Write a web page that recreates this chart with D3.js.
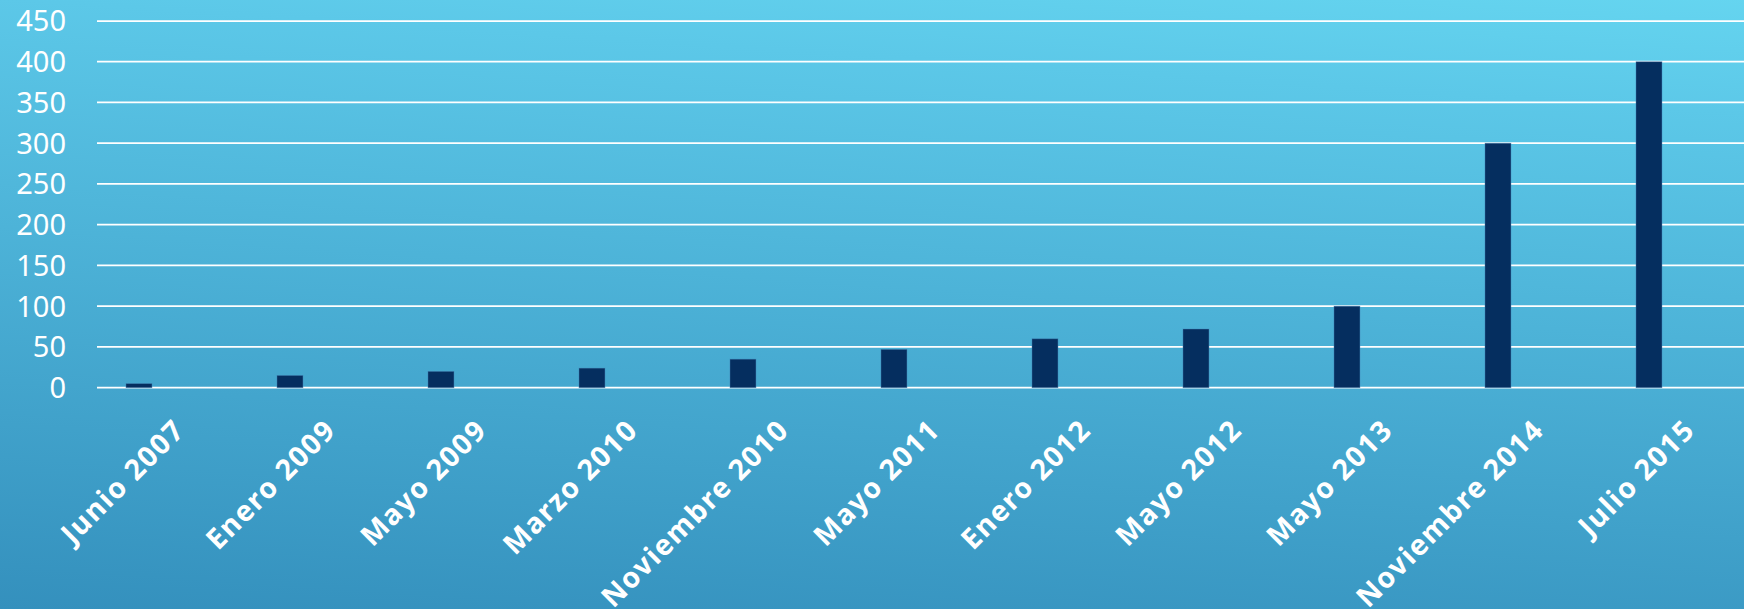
<!DOCTYPE html>
<html>
<head>
  <style>
    body { margin: 0; padding: 0; overflow: hidden; }
    svg { display: block; }
    .ylab { font-family: "Noto Sans", sans-serif; font-size: 29px; fill: #fff; }
    .xlab { font-family: "Noto Sans", sans-serif; font-weight: 700; font-size: 28.5px; letter-spacing: 1.5px; fill: #fff; }
  </style>
</head>
<body>
  <div id="chart"></div>
  <script src="https://cdnjs.cloudflare.com/ajax/libs/d3/7.8.5/d3.min.js"></script>
  <script>
    const categories = ['Junio 2007', 'Enero 2009', 'Mayo 2009', 'Marzo 2010', 'Noviembre 2010',
      'Mayo 2011', 'Enero 2012', 'Mayo 2012', 'Mayo 2013', 'Noviembre 2014', 'Julio 2015'];
    const values = [5, 15, 20, 24, 35, 47, 60, 72, 100, 300, 400];
    const yTicks = [0, 50, 100, 150, 200, 250, 300, 350, 400, 450];

    const W = 1744, H = 609;
    const svg = d3.select('#chart').append('svg')
      .attr('width', W).attr('height', H);

    // background: dark at the bottom, light at the top, a bit lighter to the right
    const grad = svg.append('defs').append('linearGradient')
      .attr('id', 'bg').attr('gradientUnits', 'userSpaceOnUse')
      .attr('x1', 0).attr('y1', 609).attr('x2', 50).attr('y2', -151);
    grad.append('stop').attr('offset', 0).attr('stop-color', '#3490bd');
    grad.append('stop').attr('offset', 0.8).attr('stop-color', '#5cc8e8');
    grad.append('stop').attr('offset', 1).attr('stop-color', '#68d9f2');

    svg.append('rect').attr('width', W).attr('height', H).attr('fill', 'url(#bg)');

    const x = d3.scaleBand().domain(categories).range([97, 1758]).padding(0);
    const y = d3.scaleLinear().domain([0, 450]).range([387.7, 21]);

    // gridlines
    svg.append('g')
      .selectAll('line')
      .data(yTicks)
      .enter().append('line')
      .attr('x1', 97).attr('x2', W)
      .attr('y1', d => y(d)).attr('y2', d => y(d))
      .attr('stroke', '#fff').attr('stroke-width', 1.75);

    // y labels
    svg.append('g')
      .selectAll('text')
      .data(yTicks)
      .enter().append('text')
      .attr('class', 'ylab')
      .attr('x', 66)
      .attr('y', d => y(d))
      .attr('dy', '0.36em')
      .attr('text-anchor', 'end')
      .text(d => d);

    // bars
    const bw = x.bandwidth();
    svg.append('g')
      .selectAll('rect')
      .data(values)
      .enter().append('rect')
      .attr('x', (d, i) => x(categories[i]) + bw * 0.192)
      .attr('width', bw * 0.172)
      .attr('y', d => y(d))
      .attr('height', d => y(0) - y(d))
      .attr('fill', '#052e5f')
      .attr('stroke', 'rgba(70,130,180,0.5)')
      .attr('stroke-width', 0.8);

    // x labels
    svg.append('g')
      .selectAll('text')
      .data(categories)
      .enter().append('text')
      .attr('class', 'xlab')
      .attr('text-anchor', 'end')
      .attr('transform', d => `translate(${x(d) + bw / 2 + 14},${y(0) + 44}) rotate(-45)`)
      .text(d => d);
  </script>
</body>
</html>
